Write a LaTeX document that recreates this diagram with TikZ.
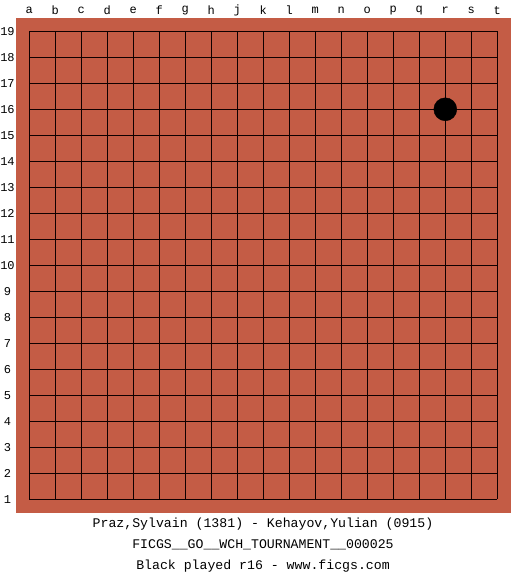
\documentclass[tikz,border=0pt]{standalone}
\usepackage{fontspec}
\setmonofont{Liberation Mono}
\usepackage{tikz}
\usetikzlibrary{positioning}
\definecolor{boardred}{HTML}{C45C45}
\definecolor{gridline}{HTML}{100000}

\begin{document}
\begin{tikzpicture}[
    x=1pt, y=-1pt,
    board/.style={fill=boardred, draw=none},
    gridl/.style={draw=gridline, line width=1pt},
    coordlabel/.style={font=\ttfamily\fontsize{12}{12}\selectfont, inner sep=0pt},
    caption/.style={font=\ttfamily\fontsize{13.2}{13.2}\selectfont, inner sep=0pt, anchor=base},
    stone/.style={circle, fill=black, draw=black, minimum size=23pt, inner sep=0pt}
]
    % Cornice della pagina
    \useasboundingbox[fill=white] (0,0) rectangle (525,575);

    % Tavoliere
    \fill[board] (16,18) rectangle (511,513);

    % Griglia 19x19
    \foreach \i in {0,...,18} {
        \draw[gridl] (29.3+26*\i,31.3) -- (29.3+26*\i,499.3);
        \draw[gridl] (29.3,31.3+26*\i) -- (497.3,31.3+26*\i);
    }

    % Lettere delle colonne (senza la i)
    \foreach \l [count=\c from 0] in {a,b,c,d,e,f,g,h,j,k,l,m,n,o,p,q,r,s,t} {
        \node[coordlabel] (col\l) at (29.3+26*\c,10.5) {\l};
    }

    % Numeri delle righe
    \foreach \r in {1,...,19} {
        \node[coordlabel] (row\r) at (7.5,31.3+26*19-26*\r) {\r};
    }

    % Pietra nera in r16
    \node[stone] (r16) at (445.3,109.3) {};

    % Didascalia sotto il tavoliere
    \node[caption] (players) at (263,527) {Praz,Sylvain (1381) - Kehayov,Yulian (0915)};
    \node[caption] (event) at (263,548) {FICGS\_\_GO\_\_WCH\_TOURNAMENT\_\_000025};
    \node[caption] (lastmove) at (263,569) {Black played r16 - www.ficgs.com};

\end{tikzpicture}
\end{document}
